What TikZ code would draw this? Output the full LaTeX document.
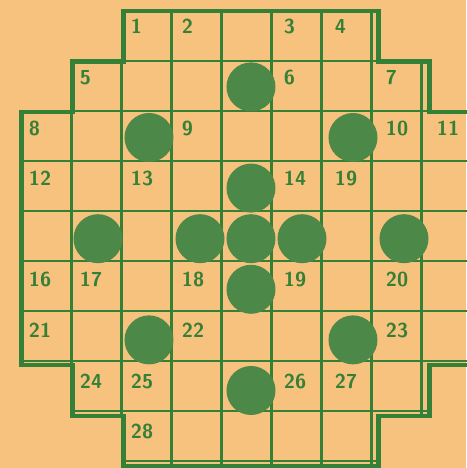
\documentclass[tikz,border=0pt]{standalone}
\definecolor{paper}{RGB}{247,193,126}
\definecolor{ink}{RGB}{52,128,54}
\definecolor{dotgreen}{RGB}{76,136,72}
\tikzset{
  num/.style={anchor=north west, inner sep=0pt, text=ink, font=\fontsize{11.5}{12}\selectfont\sffamily\bfseries},
  cellline/.style={ink, line width=1.4pt},
  rim/.style={ink, line width=2.6pt, line join=miter},
}
\begin{document}
\begin{tikzpicture}[x=1.02cm, y=-1.012cm]
  \fill[paper] (-0.4216,-0.2174) rectangle (8.716,9.032);
  \useasboundingbox (-0.4216,-0.2174) rectangle (8.716,9.032);

  % inner cells, clipped to the board
  \begin{scope}
    \clip (2,0) -- (7,0) -- (7,1) -- (8,1) -- (8,2) -- (9,2) -- (9,7) -- (8,7) -- (8,8)
      -- (7,8) -- (7,9) -- (2,9) -- (2,8) -- (1,8) -- (1,7) -- (0,7) -- (0,2) -- (1,2)
      -- (1,1) -- (2,1) -- cycle;
    \draw[cellline] (0,0) grid (9,9);
  \end{scope}

  % outer border
  \draw[rim] (2,0) -- (7,0) -- (7,1) -- (8,1) -- (8,2) -- (9,2) -- (9,7) -- (8,7) -- (8,8)
    -- (7,8) -- (7,9) -- (2,9) -- (2,8) -- (1,8) -- (1,7) -- (0,7) -- (0,2) -- (1,2)
    -- (1,1) -- (2,1) -- cycle;

  % black squares drawn as discs
  \foreach \c/\r in {4/1, 2/2, 6/2, 4/3, 1/4, 3/4, 4/4, 5/4, 7/4, 4/5, 2/6, 6/6, 4/7}
    \fill[dotgreen] (\c+0.5,\r+0.5) circle (0.49cm);

  % clue numbers
  \foreach \t/\c/\r in {1/2/0, 2/3/0, 3/5/0, 4/6/0,
      5/1/1, 6/5/1, 7/7/1,
      8/0/2, 9/3/2, 10/7/2, 11/8/2,
      12/0/3, 13/2/3, 14/5/3, 19/6/3,
      16/0/5, 17/1/5, 18/3/5, 19/5/5, 20/7/5,
      21/0/6, 22/3/6, 23/7/6,
      24/1/7, 25/2/7, 26/5/7, 27/6/7,
      28/2/8}
    \node[num] (c\c-\r) at (\c+0.14,\r+0.16) {\t};
\end{tikzpicture}
\end{document}
